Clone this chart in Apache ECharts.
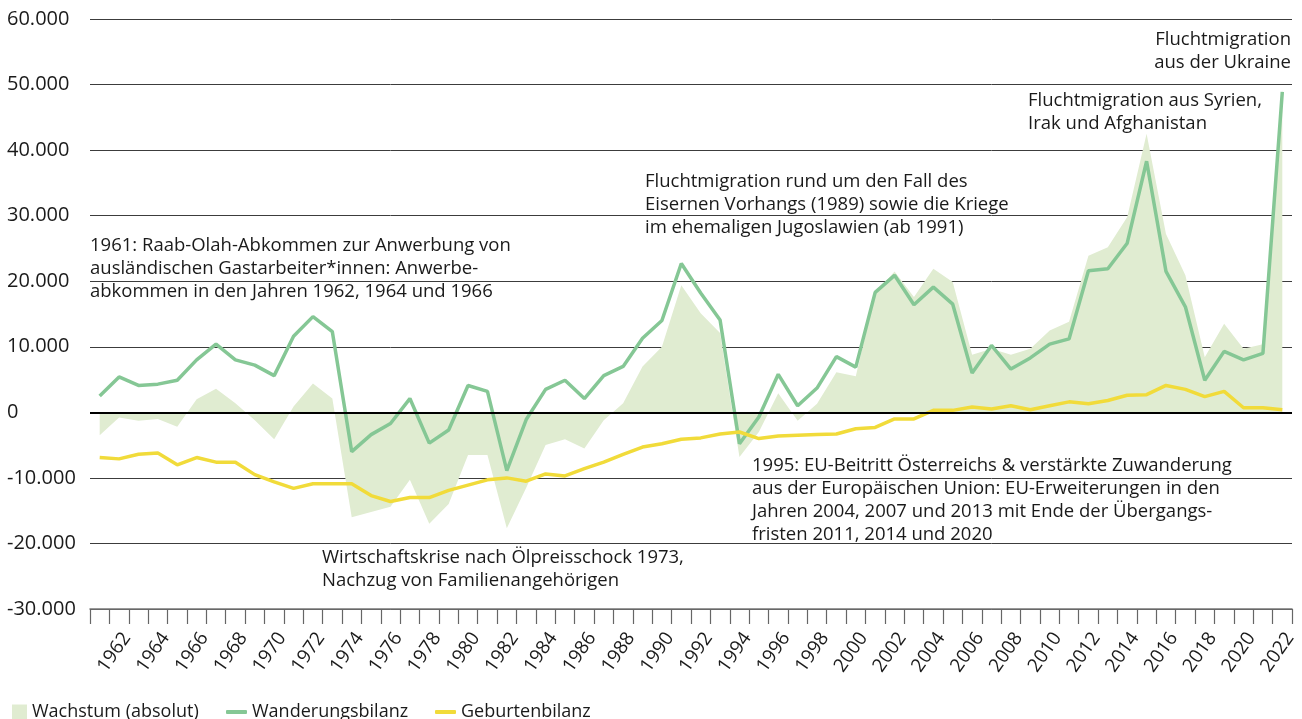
<!DOCTYPE html>
<html>
<head>
<meta charset="utf-8">
<script src="https://cdn.jsdelivr.net/npm/echarts@6/dist/echarts.min.js"></script>
<style>
  html, body { margin: 0; padding: 0; background: #fff; }
  #chart { width: 1302px; height: 719px; }
</style>
</head>
<body>
<div id="chart"></div>
<script>
// Jahre 1961 - 2022
const years = [];
for (let y = 1961; y <= 2022; y++) years.push(String(y));

// Wachstum (absolut)
const wachstum = [
  -3500, -800, -1300, -1000, -2200, 2000, 3600, 1400, -1200, -4100,
  900, 4400, 2100, -16000, -15200, -14400, -10300, -17000, -14000, -6500,
  -6500, -17700, -11500, -5000, -4100, -5500, -1200, 1400, 7000, 10000,
  19400, 15100, 12100, -6800, -3000, 2900, -1300, 1300, 6100, 5500,
  18200, 21500, 17600, 21900, 19900, 8800, 9700, 8800, 9700, 12500,
  13800, 23900, 25200, 29800, 42500, 27200, 20900, 8400, 13500, 9700,
  10400, 49300
];

// Wanderungsbilanz
const wanderung = [
  2500, 5400, 4100, 4300, 4900, 8000, 10400, 8000, 7200, 5600,
  11600, 14600, 12300, -6000, -3400, -1700, 2100, -4700, -2700, 4100,
  3200, -8900, -1100, 3500, 4900, 2100, 5600, 7000, 11300, 14000,
  22700, 18200, 14100, -4800, -700, 5800, 1000, 3700, 8500, 6900,
  18300, 20900, 16400, 19100, 16500, 6000, 10200, 6600, 8300, 10400,
  11200, 21600, 21900, 25800, 38300, 21500, 16100, 4900, 9300, 8000,
  9000, 48900
];

// Geburtenbilanz
const geburten = [
  -6900, -7100, -6400, -6200, -8000, -6900, -7600, -7600, -9500, -10600,
  -11600, -10900, -10900, -10900, -12700, -13600, -13000, -13000, -11900, -11100,
  -10300, -10000, -10500, -9400, -9700, -8600, -7600, -6400, -5300, -4800,
  -4100, -3900, -3300, -3000, -4000, -3600, -3500, -3400, -3300, -2500,
  -2300, -1000, -1000, 300, 300, 800, 500, 1000, 400, 1000,
  1600, 1300, 1800, 2600, 2700, 4100, 3500, 2400, 3200, 700,
  700, 400
];

const FONT = '"Open Sans", "Noto Sans", sans-serif';
const TXT = '#1a1a1a';
const AREA = '#e0ecd1';
const GREEN = '#85c795';
const YELLOW = '#f1db3a';

// Anmerkungen im Diagramm
const notes = [
  { x: 90, y: 234, align: 'left',
    text: '1961: Raab-Olah-Abkommen zur Anwerbung von\nausländischen Gastarbeiter*innen: Anwerbe-\nabkommen in den Jahren 1962, 1964 und 1966' },
  { x: 645, y: 170, align: 'left',
    text: 'Fluchtmigration rund um den Fall des\nEisernen Vorhangs (1989) sowie die Kriege\nim ehemaligen Jugoslawien (ab 1991)' },
  { x: 1028, y: 89, align: 'left',
    text: 'Fluchtmigration aus Syrien,\nIrak und Afghanistan' },
  { x: 1291, y: 28, align: 'right',
    text: 'Fluchtmigration\naus der Ukraine' },
  { x: 752, y: 454, align: 'left',
    text: '1995: EU-Beitritt Österreichs & verstärkte Zuwanderung\naus der Europäischen Union: EU-Erweiterungen in den\nJahren 2004, 2007 und 2013 mit Ende der Übergangs-\nfristen 2011, 2014 und 2020' },
  { x: 322, y: 546, align: 'left',
    text: 'Wirtschaftskrise nach Ölpreisschock 1973,\nNachzug von Familienangehörigen' }
];

function fmt(v) {
  if (v === 0) return '0';
  const s = Math.abs(v) / 1000 + '.000';
  return (v < 0 ? '-' : '') + s;
}

const chart = echarts.init(document.getElementById('chart'), null, { renderer: 'canvas' });

const legendText = { color: TXT, fontSize: 18, fontFamily: FONT };

chart.setOption({
  animation: false,
  textStyle: { fontFamily: FONT },
  grid: { left: 90, right: 10, top: 19, bottom: 110 },
  legend: [
    { left: 7, top: 698, icon: 'rect', itemWidth: 15, itemHeight: 15, itemGap: 5,
      selectedMode: false, data: ['Wachstum (absolut)'], textStyle: legendText },
    { left: 221, top: 698, icon: 'roundRect', itemWidth: 21, itemHeight: 4,
      selectedMode: false, data: ['Wanderungsbilanz'], textStyle: legendText },
    { left: 430, top: 698, icon: 'roundRect', itemWidth: 21, itemHeight: 4,
      selectedMode: false, data: ['Geburtenbilanz'], textStyle: legendText }
  ],
  xAxis: {
    type: 'category',
    data: years,
    boundaryGap: true,
    axisLine: { onZero: false, lineStyle: { color: '#777', width: 1.5 } },
    axisTick: { show: true, interval: 0, length: 15, lineStyle: { color: '#666', width: 1.2 } },
    axisLabel: {
      interval: (idx, val) => Number(val) % 2 === 0,
      rotate: 55,
      margin: 20,
      verticalAlign: 'top',
      color: TXT,
      fontSize: 19,
      fontFamily: FONT
    }
  },
  yAxis: {
    type: 'value',
    min: -30000,
    max: 60000,
    interval: 10000,
    axisLine: { show: false },
    axisTick: { show: false },
    axisLabel: {
      formatter: fmt,
      align: 'left',
      margin: 83,
      color: TXT,
      fontSize: 20,
      fontFamily: FONT
    },
    splitLine: { lineStyle: { color: '#3c3c3c', width: 1 } }
  },
  graphic: notes.map(n => ({
    type: 'text',
    x: n.x,
    y: n.y,
    z: 50,
    style: {
      text: n.text,
      font: '18.5px ' + FONT,
      fill: TXT,
      align: n.align,
      verticalAlign: 'top',
      lineHeight: 23
    }
  })),
  series: [
    {
      name: 'Wachstum (absolut)',
      type: 'line',
      data: wachstum,
      symbol: 'none',
      lineStyle: { width: 0 },
      itemStyle: { color: AREA },
      areaStyle: { color: AREA, opacity: 1 },
      z: 1,
      markLine: {
        silent: true,
        symbol: 'none',
        label: { show: false },
        lineStyle: { color: '#000', width: 2, type: 'solid' },
        data: [{ yAxis: 0 }]
      }
    },
    {
      name: 'Wanderungsbilanz',
      type: 'line',
      data: wanderung,
      symbol: 'none',
      itemStyle: { color: GREEN },
      lineStyle: { color: GREEN, width: 3.5 },
      z: 3
    },
    {
      name: 'Geburtenbilanz',
      type: 'line',
      data: geburten,
      symbol: 'none',
      itemStyle: { color: YELLOW },
      lineStyle: { color: YELLOW, width: 3.5 },
      z: 4
    }
  ]
});
</script>
</body>
</html>
